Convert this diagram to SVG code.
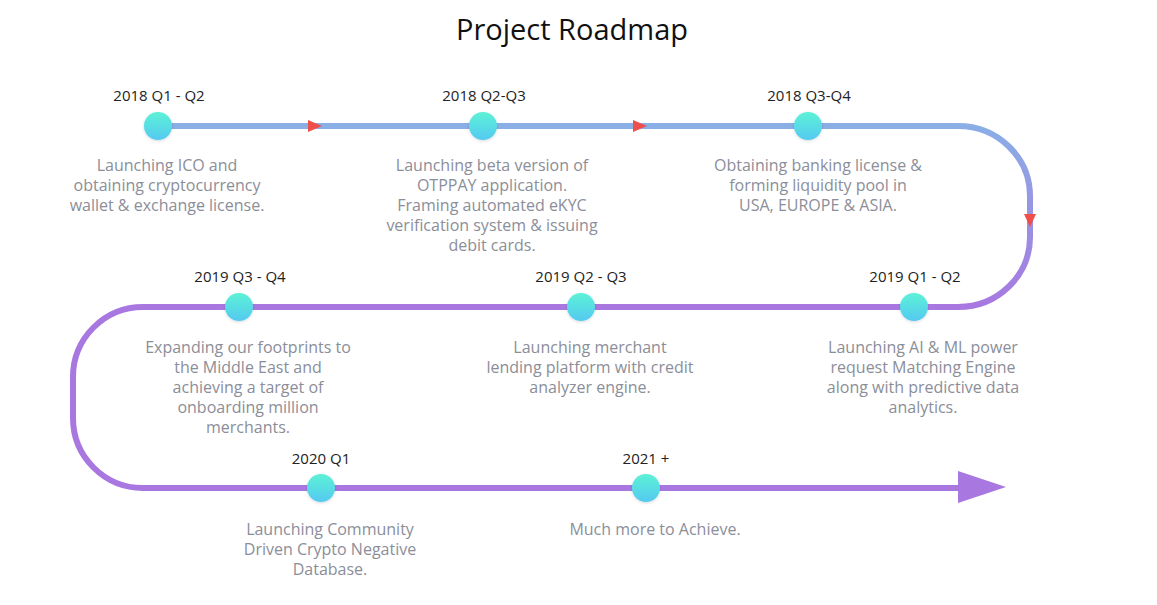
<svg xmlns="http://www.w3.org/2000/svg" width="1157" height="605" viewBox="0 0 1157 605">
<style>
.title{font-family:"Open Sans","Liberation Sans",sans-serif;font-size:29px;fill:#111;text-anchor:middle}
.date{font-family:"Open Sans","Liberation Sans",sans-serif;font-size:15px;fill:#222;text-anchor:middle}
.desc{font-family:"Open Sans","Liberation Sans",sans-serif;font-size:16px;fill:#8b8e99;text-anchor:middle}
.line{fill:none;stroke-width:6}
.dot{fill:url(#dotg);filter:url(#sh)}
.red{fill:#ef4f4a}
</style>
<defs>
<linearGradient id="dotg" x1="0" y1="0" x2="0" y2="1">
<stop offset="0" stop-color="#5cf2d6"/>
<stop offset="1" stop-color="#55c9f0"/>
</linearGradient>
<linearGradient id="vg" gradientUnits="userSpaceOnUse" x1="0" y1="126" x2="0" y2="307">
<stop offset="0" stop-color="#8aaee6"/>
<stop offset="1" stop-color="#a878e0"/>
</linearGradient>
<filter id="sh" x="-50%" y="-50%" width="200%" height="200%">
<feDropShadow dx="0" dy="1" stdDeviation="1.5" flood-color="#000" flood-opacity="0.15"/>
</filter>
</defs>
<rect width="1157" height="605" fill="#fff"/>
<text class="title" x="572" y="40">Project Roadmap</text>
<g id="connectors">
<path class="line" stroke="#8aaee6" d="M158,126 H960"/>
<path class="line" stroke="url(#vg)" d="M958,126 A72,70 0 0 1 1030,196 V237 A72,70 0 0 1 958,307"/>
<path class="line" stroke="#a878e0" d="M960,307 H143 A70,70 0 0 0 73,377 V418 A70,70 0 0 0 143,488 H962"/>
<polygon fill="#a878e0" points="958,471 1006,487 958,503"/>
<polygon class="red" points="308,120 322,126 308,132"/>
<polygon class="red" points="633,120 647,126 633,132"/>
<polygon class="red" points="1024,214 1036,214 1030,227"/>
</g>
<g id="n1">
<text class="date" x="159" y="101">2018 Q1 - Q2</text>
<circle class="dot" cx="158" cy="126" r="14"/>
<text class="desc" x="167" y="171">Launching ICO and</text>
<text class="desc" x="167" y="191">obtaining cryptocurrency</text>
<text class="desc" x="167" y="211">wallet &amp; exchange license.</text>
</g>
<g id="n2">
<text class="date" x="484" y="101">2018 Q2-Q3</text>
<circle class="dot" cx="483" cy="126" r="14"/>
<text class="desc" x="492" y="171">Launching beta version of</text>
<text class="desc" x="492" y="191">OTPPAY application.</text>
<text class="desc" x="492" y="211">Framing automated eKYC</text>
<text class="desc" x="492" y="231">verification system &amp; issuing</text>
<text class="desc" x="492" y="251">debit cards.</text>
</g>
<g id="n3">
<text class="date" x="809" y="101">2018 Q3-Q4</text>
<circle class="dot" cx="808" cy="126" r="14"/>
<text class="desc" x="818" y="171">Obtaining banking license &amp;</text>
<text class="desc" x="818" y="191">forming liquidity pool in</text>
<text class="desc" x="818" y="211">USA, EUROPE &amp; ASIA.</text>
</g>
<g id="n4">
<text class="date" x="915" y="282">2019 Q1 - Q2</text>
<circle class="dot" cx="914" cy="307" r="14"/>
<text class="desc" x="923" y="353">Launching AI &amp; ML power</text>
<text class="desc" x="923" y="373">request Matching Engine</text>
<text class="desc" x="923" y="393">along with predictive data</text>
<text class="desc" x="923" y="413">analytics.</text>
</g>
<g id="n5">
<text class="date" x="581" y="282">2019 Q2 - Q3</text>
<circle class="dot" cx="581" cy="307" r="14"/>
<text class="desc" x="590" y="353">Launching merchant</text>
<text class="desc" x="590" y="373">lending platform with credit</text>
<text class="desc" x="590" y="393">analyzer engine.</text>
</g>
<g id="n6">
<text class="date" x="240" y="282">2019 Q3 - Q4</text>
<circle class="dot" cx="239" cy="307" r="14"/>
<text class="desc" x="248" y="353">Expanding our footprints to</text>
<text class="desc" x="248" y="373">the Middle East and</text>
<text class="desc" x="248" y="393">achieving a target of</text>
<text class="desc" x="248" y="413">onboarding million</text>
<text class="desc" x="248" y="433">merchants.</text>
</g>
<g id="n7">
<text class="date" x="321" y="464">2020 Q1</text>
<circle class="dot" cx="321" cy="488" r="14"/>
<text class="desc" x="330" y="535">Launching Community</text>
<text class="desc" x="330" y="555">Driven Crypto Negative</text>
<text class="desc" x="330" y="575">Database.</text>
</g>
<g id="n8">
<text class="date" x="646" y="464">2021 +</text>
<circle class="dot" cx="646" cy="488" r="14"/>
<text class="desc" x="655" y="535">Much more to Achieve.</text>
</g>
</svg>
